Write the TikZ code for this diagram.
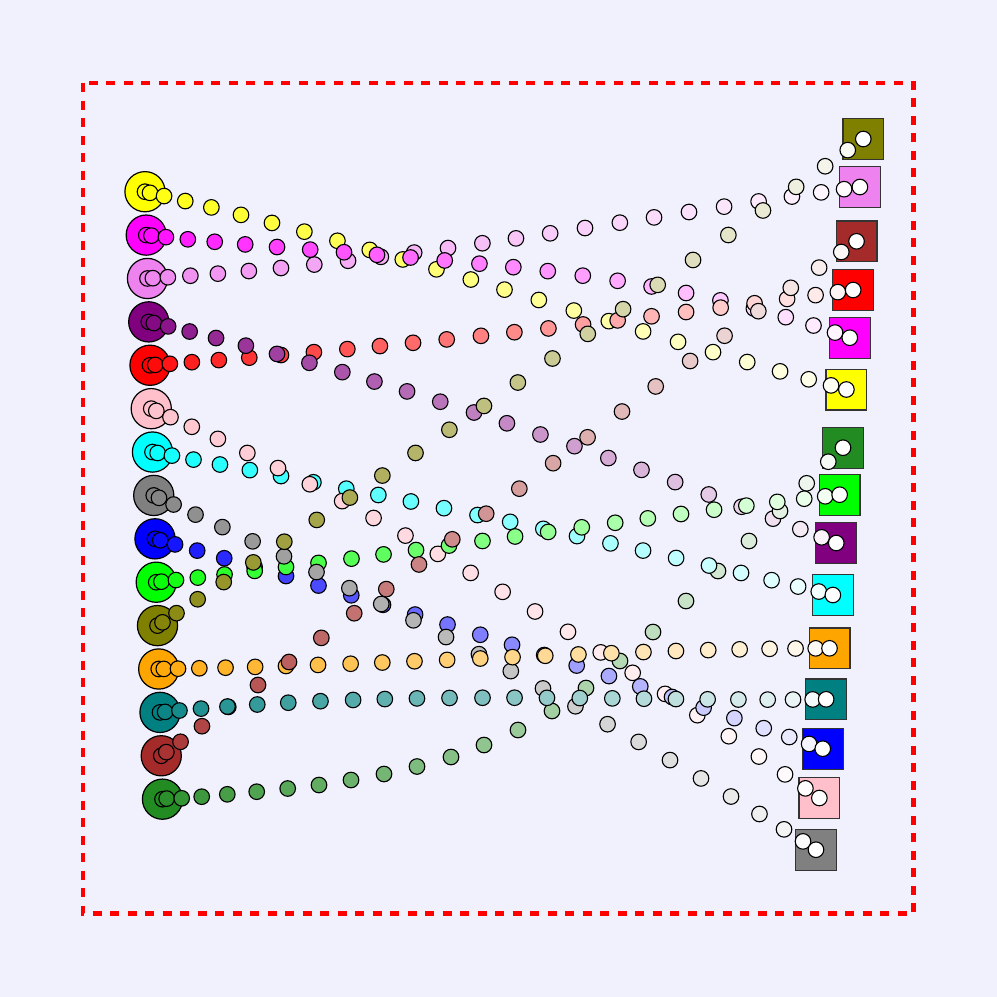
\documentclass[tikz,border=0pt]{standalone}
\usetikzlibrary{calc}
\definecolor{bgc}{RGB}{240,241,252}
\definecolor{kYellow}{RGB}{255,255,0}
\definecolor{kMagenta}{RGB}{255,0,255}
\definecolor{kViolet}{RGB}{238,130,238}
\definecolor{kPurple}{RGB}{128,0,128}
\definecolor{kRed}{RGB}{255,0,0}
\definecolor{kPink}{RGB}{255,192,203}
\definecolor{kCyan}{RGB}{0,255,255}
\definecolor{kGray}{RGB}{128,128,128}
\definecolor{kBlue}{RGB}{0,0,255}
\definecolor{kGreen}{RGB}{0,255,0}
\definecolor{kOlive}{RGB}{128,128,0}
\definecolor{kOrange}{RGB}{255,165,0}
\definecolor{kTeal}{RGB}{0,128,128}
\definecolor{kBrown}{RGB}{165,42,42}
\definecolor{kForest}{RGB}{34,139,34}
\newcommand\dotchain[6]{%
  \path (L#3.center) .. controls #5 and #6 .. (R#4.center)
    \foreach \k/\p [evaluate=\k as \pct using 100-100*\k/24] in {0/0,1/0.0071,2/0.027,3/0.057,4/0.094,5/0.136,6/0.180,7/0.226,8/0.273,9/0.319,10/0.366,11/0.414,12/0.463,13/0.511,14/0.560,15/0.610,16/0.660,17/0.709,18/0.759,19/0.809,20/0.858,21/0.905,22/0.946,23/0.978,24/1}
    { node[dotnode, fill=#2!\pct!white, pos=\p] (#1\k) {} };%
}
\begin{document}
\begin{tikzpicture}[x=1pt,y=-1pt,
  bignode/.style={circle, draw=black, line width=1.2pt, minimum size=40.2pt, inner sep=0pt},
  endbox/.style={rectangle, draw=black!80, line width=1.2pt, minimum size=40.8pt, inner sep=0pt},
  dotnode/.style={circle, draw=black, line width=1.1pt, minimum size=15.6pt, inner sep=0pt},
  frame/.style={kRed, line width=4.3pt, dash pattern=on 9pt off 8.5pt}]
\useasboundingbox (0,0) rectangle (997,997);
\fill[bgc] (0,0) rectangle (997,997);
\draw[frame] (83,83) rectangle (913.5,913.5);
% left circles
\foreach \c [count=\i from 0] in {kYellow,kMagenta,kViolet,kPurple,kRed,kPink,kCyan,kGray,kBlue,kGreen,kOlive,kOrange,kTeal,kBrown,kForest}
  \node[bignode, fill=\c] (L\i) at ({145+1.25*\i},{191.7+43.39*\i}) {};
% right squares
\foreach \c/\y [count=\j from 0] in {kOlive/139,kViolet/187,kBrown/241.3,kRed/290,kMagenta/337.7,kYellow/389.5,kForest/447.7,kGreen/494.7,kPurple/543,kCyan/595,kOrange/648.3,kTeal/699.3,kBlue/748.7,kPink/798,kGray/849.7}
  \node[endbox, fill=\c] (R\j) at ({863.3-3.38*\j},\y) {};
% chains of dots
\dotchain{yel}{kYellow}{0}{5}{(380.6,244.7)}{(613.7,327.7)}
\dotchain{vio}{kViolet}{2}{1}{(400.1,264.0)}{(619.5,219.5)}
\dotchain{mag}{kMagenta}{1}{4}{(389.7,261.2)}{(626.5,258.1)}
\dotchain{red}{kRed}{4}{3}{(396.1,347.7)}{(620.8,322.0)}
\dotchain{pur}{kPurple}{3}{8}{(388.7,376.9)}{(614.7,456.9)}
\foreach \k/\x/\y [evaluate=\k as \pct using 100-100*\k/24] in {0/162.5/799.2,1/166.7/798.6,2/181.7/798.3,3/201.7/796.7,4/227.3/794.3,5/256.7/791.7,6/287.7/788.5,7/319/785,8/351/780,9/384/774,10/417/766.5,11/451/757,12/484/745,13/518/730,14/552/711,15/586/688,16/620/661,17/653/632,18/686/601,19/718/571,20/749/541,21/780/511,22/806.7/483.3,23/828.3/461.7,24/843/447.7}
  \node[dotnode, fill=kForest!\pct!white] (fgr\k) at (\x,\y) {};
\dotchain{cya}{kCyan}{6}{9}{(393.1,496.0)}{(619.0,542.4)}
\dotchain{pin}{kPink}{5}{13}{(389.4,512.7)}{(607.9,651.7)}
\dotchain{blu}{kBlue}{8}{12}{(403.8,607.7)}{(616.4,676.4)}
\dotchain{gre}{kGreen}{9}{7}{(400.6,555.7)}{(621.1,518.7)}
\dotchain{gra}{kGray}{7}{14}{(399.5,607.4)}{(620.0,723.4)}
\dotchain{ora}{kOrange}{11}{10}{(397.0,665.5)}{(620.7,648.6)}
\dotchain{oli}{kOlive}{10}{0}{(392.2,472.2)}{(627.8,307.3)}
\dotchain{bro}{kBrown}{13}{2}{(400.1,583.2)}{(625.3,402.8)}
\dotchain{tea}{kTeal}{12}{11}{(401.0,688.3)}{(622.9,701.7)}
\end{tikzpicture}
\end{document}
